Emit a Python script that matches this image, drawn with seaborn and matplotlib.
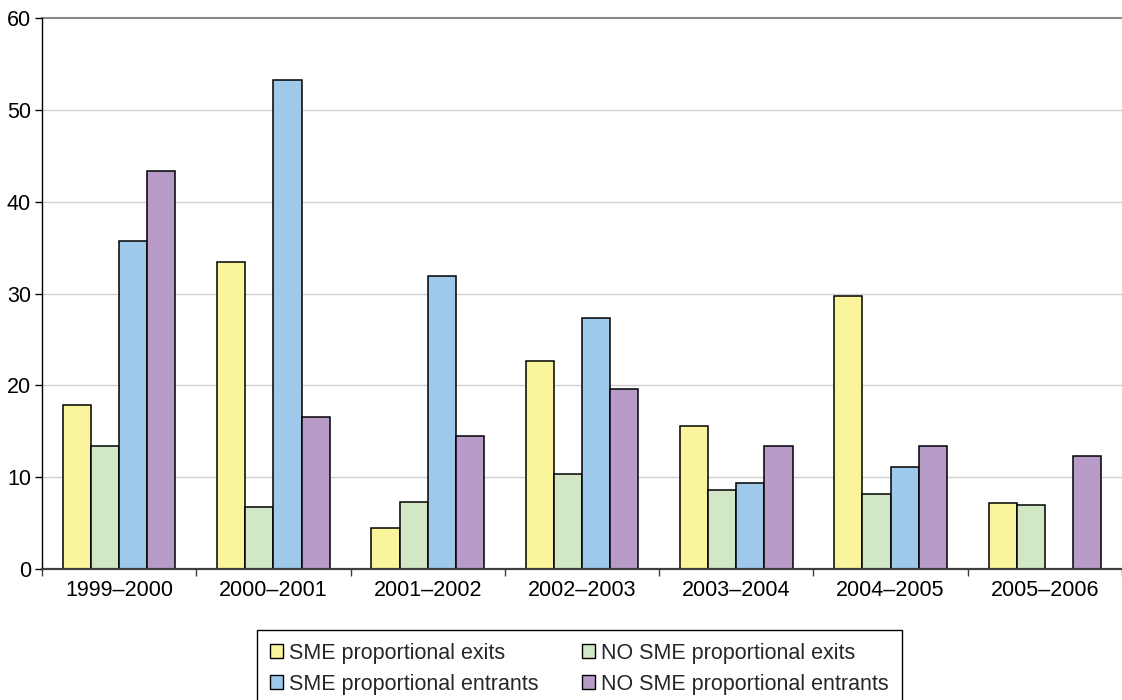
import numpy as np
import pandas as pd
import matplotlib
matplotlib.use("Agg")
import matplotlib.pyplot as plt
from matplotlib.patches import Patch
from matplotlib.ticker import FixedLocator
import seaborn as sns

periods = ["1999–2000", "2000–2001", "2001–2002", "2002–2003",
           "2003–2004", "2004–2005", "2005–2006"]
series_names = ["SME proportional exits", "NO SME proportional exits",
                "SME proportional entrants", "NO SME proportional entrants"]
sme_exits = [17.9, 33.4, 4.5, 22.7, 15.6, 29.7, 7.15]
no_sme_exits = [13.4, 6.75, 7.3, 10.3, 8.6, 8.2, 7.0]
sme_entrants = [35.7, 53.3, 31.9, 27.3, 9.4, 11.1, np.nan]
no_sme_entrants = [43.3, 16.6, 14.5, 19.6, 13.4, 13.4, 12.3]
colors = ["#FAF49C", "#D2E7C6", "#9FC9EA", "#B99BC9"]

df = pd.DataFrame({
    "period": np.tile(periods, 4),
    "series": np.repeat(series_names, len(periods)),
    "value": np.concatenate([sme_exits, no_sme_exits, sme_entrants, no_sme_entrants]),
})

sns.set_theme(style="white")
plt.rcParams["font.family"] = ["Liberation Sans", "DejaVu Sans"]
FS = 15.5

fig = plt.figure(figsize=(11.22, 7.0), dpi=100)
ax = fig.add_axes([42 / 1122, 1 - 569 / 700, 1 - 42 / 1122, (569 - 18) / 700])

sns.barplot(data=df, x="period", y="value", hue="series", order=periods,
            hue_order=series_names, palette=colors, width=0.73,
            edgecolor="black", linewidth=1.1, saturation=1, legend=False, ax=ax)

ax.set_xlim(-0.5, len(periods) - 0.5)
ax.set_ylim(0, 60)
ax.set_yticks(np.arange(0, 61, 10))
ax.set_xlabel("")
ax.set_ylabel("")

# Horizontal gridlines; the top one acts as the plot-area border
for y in range(10, 60, 10):
    ax.axhline(y, color="#D0D0D0", lw=1.0, zorder=0)
ax.axhline(60, color="#8A8A8A", lw=1.5, zorder=0, clip_on=False)

for s in ["top", "right"]:
    ax.spines[s].set_visible(False)
ax.spines["left"].set_color("black")
ax.spines["left"].set_linewidth(1.0)
ax.spines["bottom"].set_color("#404040")
ax.spines["bottom"].set_linewidth(1.6)
ax.spines["bottom"].set_zorder(5)

ax.tick_params(axis="y", which="major", direction="out", length=5, width=1,
               color="black", labelsize=FS, pad=3, left=True)
ax.tick_params(axis="x", which="major", length=0, labelsize=FS, pad=8)
ax.xaxis.set_minor_locator(FixedLocator(np.arange(-0.5, len(periods), 1.0)))
ax.tick_params(axis="x", which="minor", direction="out", length=5, width=1,
               color="#404040", bottom=True)
for lbl in ax.get_xticklabels() + ax.get_yticklabels():
    lbl.set_color("black")

# Legend filled row by row: exits on the first row, entrants on the second
handles = [Patch(facecolor=c, edgecolor="black", linewidth=1.0) for c in colors]
order = [0, 2, 1, 3]
leg = fig.legend([handles[i] for i in order], [series_names[i] for i in order],
                 loc="upper left",
                 bbox_to_anchor=(257 / 1122, 1 - 630 / 700), borderaxespad=0,
                 ncol=2, fontsize=FS, frameon=True, fancybox=False,
                 edgecolor="black", framealpha=1, handlelength=0.6,
                 handleheight=0.6, handletextpad=0.3, labelspacing=0.45,
                 columnspacing=2.0, borderpad=0.6)
leg.get_frame().set_linewidth(1.0)

fig.savefig("out.png", dpi=100)
